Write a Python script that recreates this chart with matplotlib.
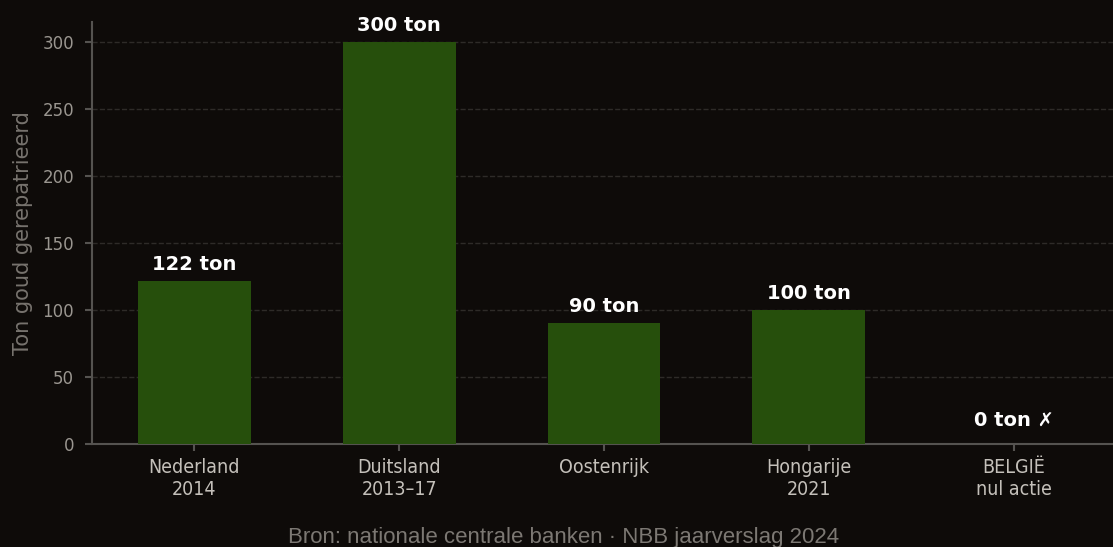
import matplotlib
matplotlib.use('Agg')
import matplotlib.pyplot as plt

landen = ['Nederland\n2014', 'Duitsland\n2013–17', 'Oostenrijk', 'Hongarije\n2021', 'BELGIË\nnul actie']
tonnen = [122, 300, 90, 100, 0]
labels = ['122 ton', '300 ton', '90 ton', '100 ton', '0 ton ✗']

bg = '#0e0b09'
groen = '#264f0c'

fig = plt.figure(figsize=(11.13, 5.47), dpi=100, facecolor=bg)
ax = fig.add_axes([92/1113, 1 - 444/547, (1116 - 92)/1113, (444 - 22)/547])
ax.set_facecolor(bg)

x = range(len(landen))
ax.bar(x, tonnen, width=0.55, color=groen, zorder=3)

for xi, v, lab in zip(x, tonnen, labels):
    # het nul-label staat wat hoger
    off = 10 if v == 0 else 5
    ax.annotate(lab, (xi, v), xytext=(0, off), textcoords='offset points',
                ha='center', va='bottom', color='white', fontsize=14,
                fontweight='bold', family='DejaVu Sans')

ax.set_xlim(-0.5, 4.5)
ax.set_ylim(0, 315)
ax.set_yticks([0, 50, 100, 150, 200, 250, 300])
ax.set_xticks(list(x))
ax.set_xticklabels(landen, fontstretch='condensed', linespacing=1.2)

ax.grid(axis='y', color='#2e2b28', linestyle='--', linewidth=1, zorder=0)
for s in ['top', 'right']:
    ax.spines[s].set_visible(False)
for s in ['left', 'bottom']:
    ax.spines[s].set_color('#555350')
    ax.spines[s].set_linewidth(1.5)

ax.tick_params(axis='y', colors='#555350', labelcolor='#9a9690', labelsize=12, length=5, width=1.5, pad=8)
ax.tick_params(axis='x', colors='#555350', labelcolor='#c4c0ba', labelsize=14, length=5, width=1.5, pad=5)
ax.set_ylabel('Ton goud gerepatrieerd', color='#77736e', fontsize=15, labelpad=7)

fig.text(564/1113, 1 - 537/547, 'Bron: nationale centrale banken · NBB jaarverslag 2024',
         ha='center', va='center', color='#7c7873', fontsize=16, family='Liberation Sans')

fig.savefig('out.png', dpi=100, facecolor=bg)
